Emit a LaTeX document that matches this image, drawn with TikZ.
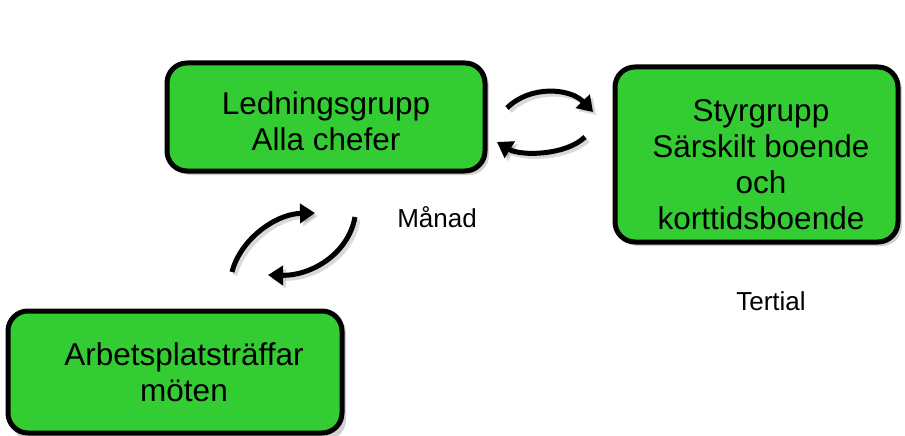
\documentclass[tikz,border=0pt]{standalone}
\usepackage{fontspec}
\setmainfont{Liberation Sans}
\usetikzlibrary{arrows.meta}
\definecolor{boxgreen}{RGB}{51,204,51}
\tikzset{
  greenbox/.style={draw=black, line width=5pt, fill=boxgreen, rounded corners=20pt},
  boxshadow/.style={fill=black, opacity=0.18, rounded corners=20pt},
  bigtext/.style={font=\fontsize{31.5}{36}\selectfont, align=center, inner sep=0pt},
  smalltext/.style={font=\fontsize{26}{30}\selectfont, inner sep=0pt},
  cyclearrow/.style={line width=5pt, -{Triangle[length=15pt,width=19pt]}},
  arrowshadow/.style={line width=5pt, draw=black, opacity=0.15, -{Triangle[length=15pt,width=19pt]}}
}
\begin{document}
\begin{tikzpicture}[x=1pt,y=-1pt]
\useasboundingbox (0,0) rectangle (905,436);
% shadows
\fill[boxshadow] (170,66) rectangle (489,175);
\fill[boxshadow] (618,70) rectangle (902,246);
\fill[boxshadow] (11,313) rectangle (346,440);
% boxes
\draw[greenbox] (167,63) rectangle (485,171);
\draw[greenbox] (615,67) rectangle (898,242);
\draw[greenbox] (8,311) rectangle (342,433);
\node[bigtext] (lg) at (326,121) {Ledningsgrupp\\Alla chefer};
\node[bigtext] (sg) at (761,165) {Styrgrupp\\Särskilt boende\\och\\korttidsboende};
\node[bigtext] (ap) at (184,372) {Arbetsplatsträffar\\möten};
\node[smalltext] (manad) at (437,217) {Månad};
\node[smalltext] (tertial) at (771,301) {Tertial};
% arrow shadows
\begin{scope}[xshift=3pt,yshift=-3pt]
\draw[arrowshadow] (507,108) .. controls (530,85) and (570,88) .. (593,112);
\draw[arrowshadow] (585,137) .. controls (565,156) and (520,156) .. (497,142);
\draw[arrowshadow] (232,272) .. controls (240,240) and (275,214) .. (315,213);
\draw[arrowshadow] (355,217) .. controls (348,255) and (310,276) .. (268,275);
\end{scope}
% arrows
\coordinate (a1s) at (507,108); \coordinate (a1e) at (593,112);
\coordinate (a2s) at (585,137); \coordinate (a2e) at (497,142);
\coordinate (a3s) at (232,272); \coordinate (a3e) at (315,213);
\coordinate (a4s) at (355,217); \coordinate (a4e) at (268,275);
\draw[cyclearrow] (a1s) .. controls (530,85) and (570,88) .. (a1e);
\draw[cyclearrow] (a2s) .. controls (565,156) and (520,156) .. (a2e);
\draw[cyclearrow] (a3s) .. controls (240,240) and (275,214) .. (a3e);
\draw[cyclearrow] (a4s) .. controls (348,255) and (310,276) .. (a4e);
\end{tikzpicture}
\end{document}
